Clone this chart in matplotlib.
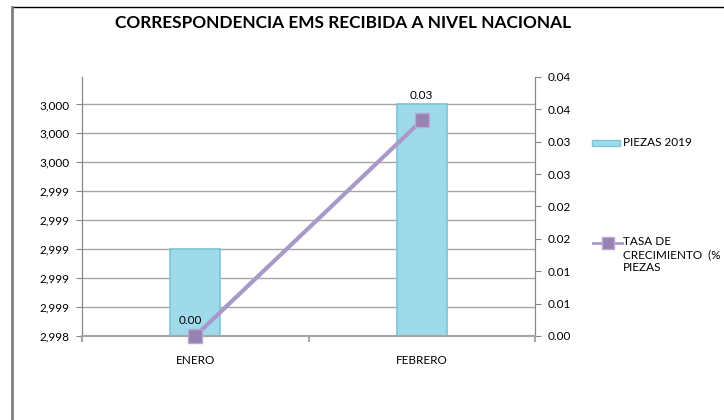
import matplotlib
matplotlib.use('Agg')
import matplotlib.pyplot as plt
from matplotlib.lines import Line2D
from matplotlib.patches import Rectangle
from matplotlib.ticker import FuncFormatter, FixedLocator
from decimal import Decimal, ROUND_HALF_UP
import numpy as np

plt.rcParams['font.family'] = ['Lato', 'DejaVu Sans']

# data
meses = ['ENERO', 'FEBRERO']
piezas_2019 = [2999, 3000]
tasa_crecimiento = [0.00, 0.0333]
tasa_labels = ['0.00', '0.03']

titulo = 'CORRESPONDENCIA EMS RECIBIDA A NIVEL NACIONAL'
serie_barras = 'PIEZAS 2019'
serie_linea = 'TASA DE\nCRECIMIENTO  (%\nPIEZAS'

BAR_COLOR = '#9fdaea'
BAR_EDGE = '#80c4d7'
LINE_COLOR = '#a999c8'
MARKER_COLOR = '#9683b3'
GRID = '#a6a6a6'


def half_up(v, fmt):
    # excel style rounding (0.005 -> 0.01, 0.025 -> 0.03)
    q = Decimal(fmt)
    return Decimal(str(round(v, 6))).quantize(q, rounding=ROUND_HALF_UP)


fig = plt.figure(figsize=(7.24, 4.2), dpi=100)
ax = fig.add_axes([0.1133, 0.2, 0.6257, 0.6167])
ax2 = ax.twinx()

x = np.arange(len(meses))
ax.bar(x, piezas_2019, width=0.22, bottom=0, color=BAR_COLOR,
       edgecolor=BAR_EDGE, linewidth=1.2, zorder=3)
ax.set_ylim(2998.4, 3000.19)
ax.yaxis.set_major_locator(FixedLocator(np.arange(2998.4, 3000.01, 0.2)))
ax.yaxis.set_major_formatter(FuncFormatter(lambda v, p: '{:,}'.format(int(half_up(v, '1')))))
ax.grid(axis='y', color=GRID, linewidth=1, zorder=0)
ax.set_xlim(-0.5, 1.5)
ax.set_xticks([-0.5, 0.5, 1.5])
ax.set_xticklabels([])
ax.set_xticks(x, minor=True)
ax.set_xticklabels(meses, minor=True)
ax.tick_params(axis='x', which='major', length=4, color=GRID, width=1.5)
ax.tick_params(axis='x', which='minor', length=0, pad=14, labelsize=8.5)
ax.tick_params(axis='y', length=4, color='#868686', labelsize=8.5, pad=5)

ln, = ax2.plot(x, tasa_crecimiento, color=LINE_COLOR, linewidth=3,
               marker='s', markersize=10, markerfacecolor=MARKER_COLOR,
               markeredgecolor='#b8a9d0', markeredgewidth=1, zorder=5,
               clip_on=False)
ax2.set_ylim(0, 0.04)
ax2.yaxis.set_major_locator(FixedLocator(np.linspace(0, 0.04, 9)))
ax2.yaxis.set_major_formatter(FuncFormatter(lambda v, p: str(half_up(v, '0.01'))))
ax2.tick_params(axis='y', length=4, color='#868686', labelsize=8.5, pad=5)

offsets = [(-5, 16), (0, 25)]
for xi, yi, lab, off in zip(x, tasa_crecimiento, tasa_labels, offsets):
    ax2.annotate(lab, (xi, yi), xytext=off, textcoords='offset pixels',
                 ha='center', va='center', fontsize=8.5, zorder=6)

for a in (ax, ax2):
    a.spines['top'].set_visible(False)
    a.spines['left'].set_color('#868686')
    a.spines['right'].set_color('#868686')
    a.spines['bottom'].set_color(GRID)
    a.spines['bottom'].set_linewidth(1.5)
ax2.patch.set_visible(False)

fig.text(0.474, 0.945, titulo, ha='center', va='center', fontsize=12.4,
         fontweight='bold')

# legend, placed by hand like the excel one
fig.patches.append(Rectangle((592 / 724, 1 - 146 / 420), 28 / 724, 6 / 420,
                             transform=fig.transFigure, facecolor=BAR_COLOR,
                             edgecolor=BAR_EDGE, linewidth=1))
fig.text(623 / 724, 1 - 143 / 420, serie_barras, ha='left', va='center', fontsize=8.5)
fig.lines.append(Line2D([593 / 724, 622 / 724], [1 - 243 / 420] * 2,
                        transform=fig.transFigure, color=LINE_COLOR, linewidth=2))
fig.lines.append(Line2D([607.5 / 724], [1 - 243 / 420], transform=fig.transFigure,
                        marker='s', markersize=8, markerfacecolor=MARKER_COLOR,
                        markeredgecolor='#b8a9d0', linestyle='none'))
fig.text(623 / 724, 1 - 236 / 420, serie_linea, ha='left', va='top', fontsize=8.5,
         linespacing=1.2)

# chart frame (only top and left visible)
fig.lines.append(Line2D([12 / 724, 1], [1 - 7 / 420] * 2, transform=fig.transFigure,
                        color='black', linewidth=1))
fig.lines.append(Line2D([12 / 724] * 2, [0, 1 - 7 / 420], transform=fig.transFigure,
                        color='#808080', linewidth=2))

fig.savefig('out.png', dpi=100)
